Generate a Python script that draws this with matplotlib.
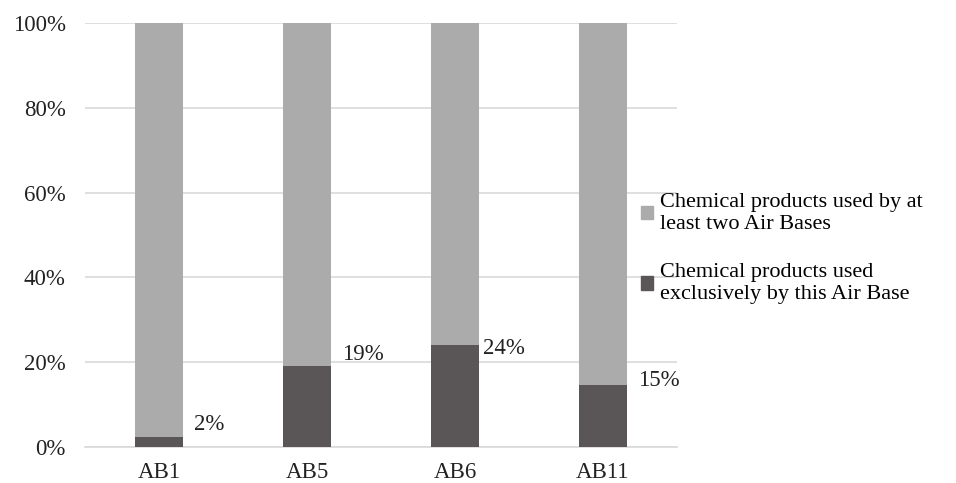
import matplotlib
matplotlib.use("Agg")
import matplotlib.pyplot as plt
from matplotlib.patches import Patch
import numpy as np

# Share of chemical products per air base (percent)
bases = ["AB1", "AB5", "AB6", "AB11"]
exclusive = [2.4, 19, 24, 14.6]
exclusive_labels = ["2%", "19%", "24%", "15%"]
shared = [100 - v for v in exclusive]

series_names = [
    "Chemical products used by at\nleast two Air Bases",
    "Chemical products used\nexclusively by this Air Base",
]

# label offsets from the bar's top-right corner, in pixels
label_offsets = [(11, 12), (11, 12), (4, -3), (11, 5)]

LIGHT = "#ababab"
DARK = "#5a5556"
GRID = "#d9d9d9"

plt.rcParams["font.family"] = ["Liberation Serif", "DejaVu Serif"]
plt.rcParams["font.size"] = 16

fig = plt.figure(figsize=(9.56, 4.83), dpi=100)
ax = fig.add_axes([85 / 956, 36 / 483, 592 / 956, 424 / 483])

x = np.arange(len(bases))
width = 0.32

ax.bar(x, exclusive, width, color=DARK, zorder=3)
ax.bar(x, shared, width, bottom=exclusive, color=LIGHT, zorder=3)

# value labels next to each dark segment
for xi, val, txt, (dx, dy) in zip(x, exclusive, exclusive_labels, label_offsets):
    ax.annotate(
        txt,
        xy=(xi + width / 2, val),
        xytext=(dx * 0.72, dy * 0.72),
        textcoords="offset points",
        ha="left",
        va="center",
        fontsize=16.5,
        color="#222222",
    )

ax.set_xlim(-0.5, len(bases) - 0.5)
ax.set_ylim(0, 100)
ax.set_yticks(np.arange(0, 101, 20))
ax.set_yticklabels([f"{t}%" for t in range(0, 101, 20)])
ax.set_xticks(x)
ax.set_xticklabels(bases)

ax.grid(axis="y", color=GRID, linewidth=1.2, zorder=0)
for side in ["top", "right", "left"]:
    ax.spines[side].set_visible(False)
ax.spines["bottom"].set_color(GRID)
ax.spines["bottom"].set_linewidth(1.2)
ax.tick_params(axis="both", length=0, colors="#222222", labelsize=16.5)
ax.tick_params(axis="y", pad=14)
ax.tick_params(axis="x", pad=11)

handles = [Patch(color=LIGHT), Patch(color=DARK)]
fig.legend(
    handles,
    series_names,
    loc="upper left",
    bbox_to_anchor=(641 / 956, 1 - 193 / 483),
    frameon=False,
    fontsize=16,
    handlelength=0.55,
    handleheight=0.55,
    handletextpad=0.3,
    labelspacing=1.33,
    borderpad=0,
    borderaxespad=0,
)

fig.savefig("out.png", dpi=100)
